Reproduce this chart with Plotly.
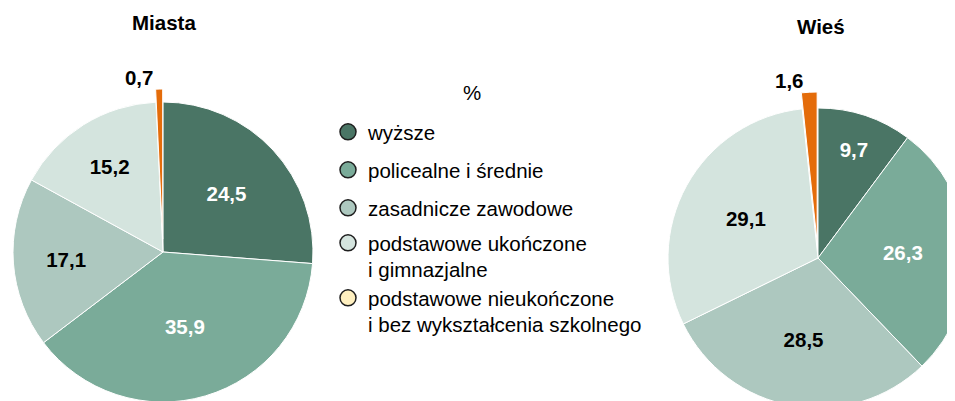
import math
import plotly.graph_objects as go

# ---------------- data ----------------
categories = [
    "wyższe",
    "policealne i średnie",
    "zasadnicze zawodowe",
    "podstawowe ukończone<br>i gimnazjalne",
    "podstawowe nieukończone<br>i bez wykształcenia szkolnego",
]
miasta_values = [24.5, 35.9, 17.1, 15.2, 0.7]
wies_values = [9.7, 26.3, 28.5, 29.1, 1.6]
pie_titles = ["Miasta", "Wieś"]
unit_label = "%"

# ---------------- styles / layout ----------------
slice_colors = ["#4a7565", "#7aab99", "#adc8bf", "#d4e4de", "#e46c0a"]
legend_colors = ["#4a7565", "#7aab99", "#adc8bf", "#d4e4de", "#fff0c0"]
label_colors = ["white", "white", "black", "black", "black"]
FONT = "Liberation Sans, Arial, Helvetica, sans-serif"
FS = 20.5
OFF = 8            # default page margin of the html body
W, H = 970, 420    # figure slightly larger than the window -> pies get clipped like the original
TRANSPARENT = "rgba(0,0,0,0)"

# window positions of legend rows (first-line centres)
legend_rows_y = [131, 169, 207, 242, 297]
legend_symbol_x = 346


def fmt(v):
    return f"{v:.1f}".replace(".", ",")


def clamp(v):
    return min(1.0, max(0.0, v))


def px(x):
    return (x - OFF) / W


def py(y):
    return 1 - (y - OFF) / H


def domain(cx, cy, r):
    return dict(x=[clamp(px(cx - r)), clamp(px(cx + r))],
                y=[clamp(py(cy + r)), clamp(py(cy - r))])


def add_pie(fig, values, cx, cy, r, pull_px):
    n = len(values)
    texts = [fmt(v) for v in values]
    # main pie (exploded slice's place left empty)
    fig.add_trace(go.Pie(
        values=values, labels=categories, sort=False, direction="clockwise",
        rotation=0, domain=domain(cx, cy, r),
        marker=dict(colors=slice_colors[:n - 1] + [TRANSPARENT],
                    line=dict(color=["white"] * (n - 1) + [TRANSPARENT], width=1)),
        text=texts, textinfo="text",
        textposition=["inside"] * (n - 1) + ["none"],
        insidetextorientation="horizontal",
        insidetextfont=dict(family=FONT, size=FS, color=label_colors, weight="bold"),
        showlegend=False, hoverinfo="skip",
    ))
    # exploded small slice: same pie moved outward along that slice's bisector
    total = sum(values)
    ang = math.radians(360 * (sum(values[:-1]) + values[-1] / 2) / total)
    dx = pull_px * math.sin(ang)
    dy = -pull_px * math.cos(ang)
    fig.add_trace(go.Pie(
        values=values, labels=categories, sort=False, direction="clockwise",
        rotation=0, domain=domain(cx + dx, cy + dy, r),
        marker=dict(colors=[TRANSPARENT] * (n - 1) + [slice_colors[-1]],
                    line=dict(color=[TRANSPARENT] * (n - 1) + ["white"], width=1)),
        text=texts, textinfo="text",
        textposition=["none"] * (n - 1) + ["outside"],
        outsidetextfont=dict(family=FONT, size=FS, color="black", weight="bold"),
        showlegend=False, hoverinfo="skip",
    ))


fig = go.Figure()
add_pie(fig, miasta_values, 163, 252, 150, 13)
add_pie(fig, wies_values, 818, 258, 150, 16)

# legend entries (circle markers), one legend box per row for exact row placement
legend_layouts = {}
for i, (cat, col) in enumerate(zip(categories, legend_colors)):
    key = "legend" if i == 0 else f"legend{i + 1}"
    fig.add_trace(go.Scatter(
        x=[None], y=[None], mode="markers", name=cat, legend=key,
        marker=dict(symbol="circle", size=16, color=col,
                    line=dict(color="#1e1e1e", width=1.5)),
        hoverinfo="skip", showlegend=True,
    ))
    legend_layouts[key] = dict(
        x=px(legend_symbol_x - 18), y=py(legend_rows_y[i] - 19),
        xanchor="left", yanchor="top",
        font=dict(family=FONT, size=FS, color="black"),
        valign="top", bgcolor=TRANSPARENT,
        itemclick=False, itemdoubleclick=False,
    )

fig.update_layout(
    width=W, height=H,
    margin=dict(l=0, r=0, t=0, b=0),
    paper_bgcolor="white", plot_bgcolor="white",
    font=dict(family=FONT, size=FS, color="black"),
    xaxis=dict(visible=False), yaxis=dict(visible=False),
    showlegend=True,
    annotations=[
        dict(text=pie_titles[0], x=px(164), y=py(23), xref="paper", yref="paper",
             showarrow=False, xanchor="center", yanchor="middle",
             font=dict(family=FONT, size=FS, color="black", weight="bold")),
        dict(text=pie_titles[1], x=px(821), y=py(27), xref="paper", yref="paper",
             showarrow=False, xanchor="center", yanchor="middle",
             font=dict(family=FONT, size=FS, color="black", weight="bold")),
        dict(text=unit_label, x=px(472), y=py(93), xref="paper", yref="paper",
             showarrow=False, xanchor="center", yanchor="middle",
             font=dict(family=FONT, size=FS, color="black")),
    ],
    **legend_layouts,
)

fig.write_html("out.html", include_plotlyjs=True, config={"displayModeBar": False})
